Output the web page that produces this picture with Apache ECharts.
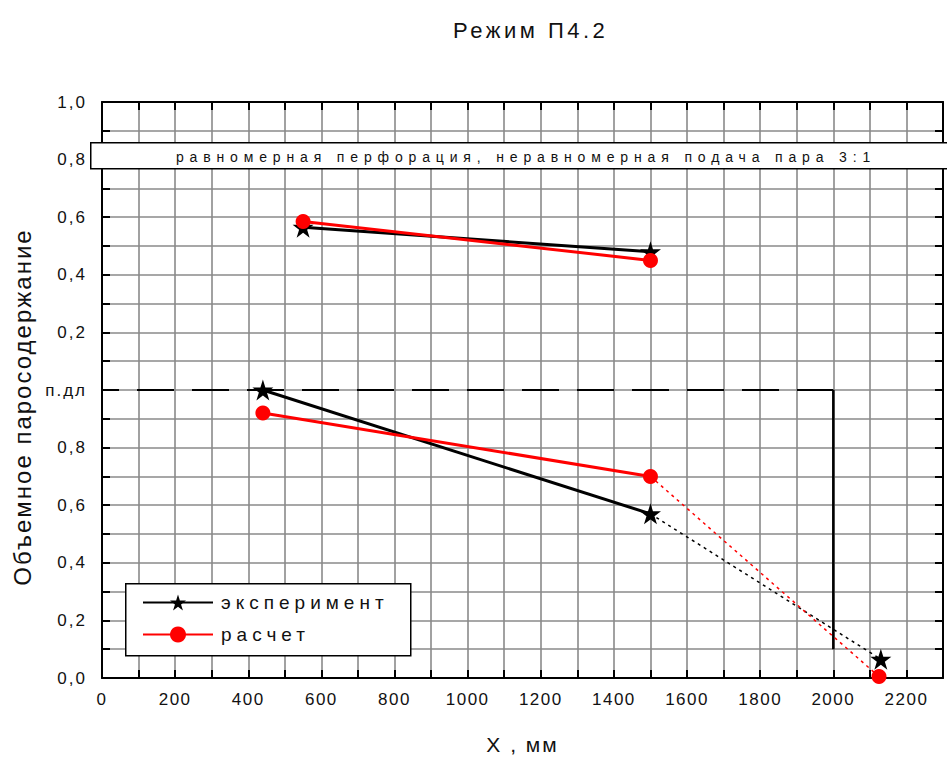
<!DOCTYPE html>
<html>
<head>
<meta charset="utf-8">
<script src="https://cdn.jsdelivr.net/npm/echarts@6/dist/echarts.min.js"></script>
<style>
  html, body { margin: 0; padding: 0; background: #fff; }
  #chart { width: 947px; height: 760px; }
</style>
</head>
<body>
<div id="chart"></div>
<script>
// ---- data ----
const titleText = 'Режим П4.2';
const noteText = 'равномерная перфорация, неравномерная подача пара 3:1';
const xName = 'X , мм';
const yName = 'Объемное паросодержание';
const seriesNames = ['эксперимент', 'расчет'];

const xTickLabels = ['0','200','400','600','800','1000','1200','1400','1600','1800','2000','2200'];
const yTickLabels = ['0,0','0,2','0,4','0,6','0,8','п.дл','0,2','0,4','0,6','0,8','1,0'];

// upper panel values are plotted above the "п.дл" level (axis break)
const upperOffset = 1.0;

// experiment (lower panel)
const expLowerX = [440, 1500];
const expLowerY = [1.00, 0.57];
const expTailX = [1500, 2130];
const expTailY = [0.57, 0.065];
// experiment (upper panel)
const expUpperX = [550, 1500];
const expUpperY = [0.565, 0.48];

// calculation (lower panel)
const calcLowerX = [440, 1500];
const calcLowerY = [0.92, 0.70];
const calcTailX = [1500, 2125];
const calcTailY = [0.70, 0.005];
// calculation (upper panel)
const calcUpperX = [550, 1500];
const calcUpperY = [0.585, 0.45];

// perforated length boundary
const boundHX = [0, 2000];
const boundHY = [1.0, 1.0];
const boundVX = [2000, 2000];
const boundVY = [1.0, 0.1];

// ---- helpers ----
const zip = (xs, ys, off) => xs.map((x, i) => [x, ys[i] + (off || 0)]);
const tail = (xs, ys) => xs.map((x, i) => i === 0 ? { value: [x, ys[i]], symbol: 'none' } : [x, ys[i]]);

const STAR = 'path://M50,0 L61.8,35.4 L100,35.4 L69.1,57.3 L80.9,92.7 L50,70.8 L19.1,92.7 L30.9,57.3 L0,35.4 L38.2,35.4 Z';
const FONT = 'Liberation Sans, Arial, sans-serif';
const GRID_COLOR = '#8a8a8a';

const chart = echarts.init(document.getElementById('chart'), null, { renderer: 'svg' });

function tickStyle() {
  return { show: true, inside: true, length: 8, lineStyle: { color: '#000', width: 2 } };
}
function lineStyleAxis() {
  return { show: true, onZero: false, lineStyle: { color: '#000', width: 2 } };
}

const option = {
  animation: false,
  backgroundColor: '#fff',
  title: {
    text: titleText,
    left: 448, top: 14,
    textStyle: { fontFamily: FONT, fontSize: 22, fontWeight: 'normal', color: '#111' }
  },
  grid: { left: 102, right: 4, top: 102, bottom: 80, containLabel: false },
  legend: {
    data: seriesNames,
    orient: 'vertical',
    left: 142, top: 593, z: 20,
    itemWidth: 70, itemHeight: 20, itemGap: 13,
    padding: 0,
    textStyle: { fontFamily: FONT, fontSize: 19, color: '#111', padding: [0, 0, 0, 3] }
  },
  xAxis: [
    {
      type: 'value', position: 'bottom', min: 0, max: 2300, interval: 100,
      axisLine: lineStyleAxis(), axisTick: tickStyle(),
      axisLabel: {
        margin: 13, fontFamily: FONT, fontSize: 17, color: '#111',
        formatter: v => (v % 200 === 0 && xTickLabels[v / 200] !== undefined) ? xTickLabels[v / 200] : ''
      },
      splitLine: { show: true, lineStyle: { color: GRID_COLOR, width: 1.6 } },
      name: xName, nameLocation: 'middle', nameGap: 56,
      nameTextStyle: { fontFamily: FONT, fontSize: 21, color: '#111' }
    },
    {
      type: 'value', position: 'top', min: 0, max: 2300, interval: 100,
      axisLine: lineStyleAxis(), axisTick: tickStyle(),
      axisLabel: { show: false }, splitLine: { show: false }
    }
  ],
  yAxis: [
    {
      type: 'value', position: 'left', min: 0, max: 2, interval: 0.1,
      axisLine: lineStyleAxis(), axisTick: tickStyle(),
      axisLabel: {
        margin: 15, fontFamily: FONT, fontSize: 17, color: '#111',
        formatter: v => { const k = Math.round(v * 10); return k % 2 === 0 ? (yTickLabels[k / 2] || '') : ''; }
      },
      splitLine: { show: true, lineStyle: { color: GRID_COLOR, width: 1.6 } },
      name: yName, nameLocation: 'middle', nameGap: 68,
      nameTextStyle: { fontFamily: FONT, fontSize: 24, color: '#111', padding: [0, 34, 0, 0] }
    },
    {
      type: 'value', position: 'right', min: 0, max: 2, interval: 0.1,
      axisLine: lineStyleAxis(), axisTick: tickStyle(),
      axisLabel: { show: false }, splitLine: { show: false }
    }
  ],
  series: [
    { name: seriesNames[0], type: 'line', data: zip(expLowerX, expLowerY),
      symbol: STAR, symbolSize: 21, itemStyle: { color: '#000' },
      lineStyle: { color: '#000', width: 3 }, z: 3 },
    { name: seriesNames[0], type: 'line', data: zip(expUpperX, expUpperY, upperOffset),
      symbol: STAR, symbolSize: 21, itemStyle: { color: '#000' },
      lineStyle: { color: '#000', width: 3 }, z: 3 },
    { name: seriesNames[0], type: 'line', data: tail(expTailX, expTailY),
      symbol: STAR, symbolSize: 21, itemStyle: { color: '#000' },
      lineStyle: { color: '#000', width: 1.5, type: [3, 4] }, z: 3 },
    { name: seriesNames[1], type: 'line', data: zip(calcLowerX, calcLowerY),
      symbol: 'circle', symbolSize: 15, itemStyle: { color: '#ff0000' },
      lineStyle: { color: '#ff0000', width: 3 }, z: 4 },
    { name: seriesNames[1], type: 'line', data: zip(calcUpperX, calcUpperY, upperOffset),
      symbol: 'circle', symbolSize: 15, itemStyle: { color: '#ff0000' },
      lineStyle: { color: '#ff0000', width: 3 }, z: 4 },
    { name: seriesNames[1], type: 'line', data: tail(calcTailX, calcTailY),
      symbol: 'circle', symbolSize: 15, itemStyle: { color: '#ff0000' },
      lineStyle: { color: '#ff0000', width: 1.5, type: [3, 4] }, z: 4 },
    { type: 'line', data: zip(boundHX, boundHY), symbol: 'none',
      lineStyle: { color: '#000', width: 2, type: [37, 18], dashOffset: 20 }, z: 2, silent: true },
    { type: 'line', data: zip(boundVX, boundVY), symbol: 'none',
      lineStyle: { color: '#000', width: 2.5 }, z: 2, silent: true }
  ],
  graphic: [
    { type: 'rect', left: 90, top: 142, z: 10,
      shape: { width: 870, height: 26 },
      style: { fill: '#fff', stroke: '#000', lineWidth: 1.5 } },
    { type: 'text', x: 526, y: 157, z: 11,
      style: { text: noteText, fontFamily: FONT, fontSize: 14, fill: '#111',
               textAlign: 'center', textVerticalAlign: 'middle' } },
    { type: 'rect', left: 125, top: 583, z: 5,
      shape: { width: 285, height: 72 },
      style: { fill: '#fff', stroke: '#000', lineWidth: 1.5 } }
  ]
};

chart.setOption(option);

// letter spacing to imitate the wide-tracked original text
const spacing = {};
spacing[titleText] = 3.5;
spacing[noteText] = 5.85;
spacing[xName] = 2;
spacing[yName] = 2;
seriesNames.forEach(n => spacing[n] = 5);
xTickLabels.forEach(t => { if (spacing[t] === undefined) spacing[t] = 1.5; });
yTickLabels.forEach(t => { if (spacing[t] === undefined) spacing[t] = 2; });

function applySpacing() {
  document.querySelectorAll('#chart svg text').forEach(t => {
    const s = t.textContent;
    if (spacing[s] !== undefined) t.setAttribute('letter-spacing', spacing[s]);
  });
}
applySpacing();
chart.on('finished', applySpacing);
setTimeout(applySpacing, 50);
</script>
</body>
</html>
